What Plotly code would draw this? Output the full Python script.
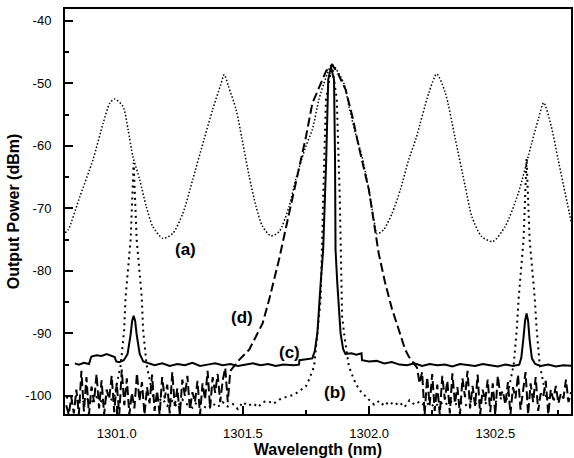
import plotly.graph_objects as go

# ---------------- data ----------------
# curve (a): periodic transmission (dotted)
a_wl = [1300.795, 1300.808, 1300.854, 1300.906, 1300.946, 1300.972, 1300.992, 1301.025, 1301.045,
        1301.064, 1301.091, 1301.117, 1301.143, 1301.183, 1301.222, 1301.262, 1301.301, 1301.347,
        1301.380, 1301.412, 1301.426, 1301.442, 1301.473, 1301.496, 1301.525, 1301.552, 1301.578, 1301.611,
        1301.644, 1301.683, 1301.709, 1301.749, 1301.775, 1301.801, 1301.821, 1301.853, 1301.900,
        1301.920, 1301.946, 1301.972, 1301.999, 1302.019, 1302.032, 1302.058, 1302.091, 1302.124,
        1302.157, 1302.186, 1302.236, 1302.268, 1302.302, 1302.341, 1302.381, 1302.407, 1302.446,
        1302.490, 1302.539, 1302.591, 1302.644, 1302.670, 1302.692, 1302.722, 1302.749, 1302.802]
a_pw = [-73.9, -73.4, -68.1, -62.2, -56.4, -53.2, -52.5, -53.7, -57.4,
        -61.7, -65.4, -69.7, -72.9, -74.8, -74.0, -70.8, -65.4, -58.8,
        -54.2, -50.2, -48.6, -50.4, -54.2, -58.8, -64.9, -69.7, -72.9, -74.4,
        -73.7, -69.7, -65.4, -60.1, -57.4, -52.6, -50.0, -47.0, -50.0,
        -53.7, -58.0, -61.7, -67.0, -71.8, -74.1, -73.4, -70.8, -67.0,
        -62.2, -58.8, -51.6, -48.5, -51.5, -58.8, -66.5, -71.3, -74.5,
        -75.3, -72.9, -67.6, -59.6, -55.8, -53.1, -56.9, -62.2, -72.4]

# curve (b): narrow filtered peaks (dotted)
b_wl = [1300.80, 1300.82, 1300.84, 1300.86, 1300.88, 1300.90, 1300.92, 1300.94, 1300.96, 1300.98,
        1300.988, 1301.016, 1301.0295, 1301.035, 1301.055, 1301.067, 1301.079, 1301.099, 1301.1045,
        1301.118, 1301.146,
        1301.16, 1301.18, 1301.20, 1301.22, 1301.24, 1301.26, 1301.28, 1301.30, 1301.32, 1301.34,
        1301.36, 1301.38, 1301.40, 1301.42, 1301.44, 1301.46, 1301.48, 1301.50, 1301.52, 1301.54,
        1301.56, 1301.58, 1301.60, 1301.62, 1301.644, 1301.67, 1301.703, 1301.749, 1301.762,
        1301.782, 1301.793, 1301.808, 1301.818, 1301.829, 1301.853, 1301.872, 1301.884, 1301.893,
        1301.904, 1301.920, 1301.940, 1301.960, 1301.999,
        1302.02, 1302.04, 1302.06, 1302.08, 1302.10, 1302.12, 1302.14, 1302.16, 1302.18, 1302.20,
        1302.22, 1302.24, 1302.26, 1302.28, 1302.30, 1302.32, 1302.34, 1302.36, 1302.38, 1302.40,
        1302.42, 1302.44, 1302.46, 1302.48, 1302.50, 1302.52,
        1302.545, 1302.573, 1302.585, 1302.593, 1302.612, 1302.624, 1302.636, 1302.656, 1302.664,
        1302.676, 1302.703,
        1302.72, 1302.74, 1302.76, 1302.78, 1302.80]
b_pw = [-100.2, -100.8, -100.0, -101.2, -100.4, -101.0, -100.2, -100.9, -100.3, -100.6,
        -100.5, -95.0, -89.4, -84.2, -75.0, -62.7, -75.0, -84.2, -89.4,
        -95.0, -100.5,
        -101.0, -100.4, -101.6, -100.8, -101.8, -100.6, -101.4, -101.9, -100.9, -101.6,
        -102.0, -101.2, -101.8, -101.0, -101.7, -101.3, -102.1, -101.0, -101.6, -101.2,
        -101.8, -101.0, -100.8, -101.3, -100.6, -100.2, -99.8, -98.5, -97.4,
        -95.3, -91.0, -84.6, -68.6, -52.6, -47.0, -52.6, -68.6, -87.3,
        -91.0, -95.3, -97.4, -99.0, -100.6,
        -101.4, -100.8, -101.6, -100.9, -101.5, -101.0, -101.8, -100.7, -101.4, -100.9,
        -101.6, -101.1, -101.8, -101.0, -101.5, -100.8, -101.4, -101.0, -101.6, -100.9,
        -101.3, -100.7, -101.2, -100.6, -101.0, -100.4,
        -100.5, -95.0, -89.4, -84.2, -75.0, -62.0, -75.0, -84.2, -89.4,
        -95.0, -100.5,
        -100.2, -100.8, -100.0, -100.6, -100.2]

# curve (c): solid
c_wl = [1300.834, 1300.85, 1300.87, 1300.89, 1300.897, 1300.90, 1300.92, 1300.94, 1300.96, 1300.98,
        1300.992, 1300.998, 1301.01, 1301.028, 1301.043, 1301.055, 1301.061, 1301.067, 1301.073,
        1301.079, 1301.091, 1301.105, 1301.13,
        1301.15, 1301.18, 1301.21, 1301.24, 1301.27, 1301.30, 1301.33, 1301.36, 1301.39, 1301.42,
        1301.45, 1301.48, 1301.51, 1301.54, 1301.57, 1301.60, 1301.63, 1301.66, 1301.70, 1301.722,
        1301.724, 1301.75, 1301.775, 1301.785, 1301.795, 1301.808, 1301.818, 1301.830, 1301.838,
        1301.849, 1301.861, 1301.865, 1301.867, 1301.874, 1301.887, 1301.897, 1301.906, 1301.93,
        1301.95, 1301.970, 1301.972, 1302.00, 1302.03, 1302.06, 1302.09, 1302.12,
        1302.15, 1302.18, 1302.21, 1302.24, 1302.27, 1302.30, 1302.33, 1302.36, 1302.39, 1302.42,
        1302.45, 1302.48, 1302.51, 1302.54, 1302.57, 1302.595,
        1302.603, 1302.611, 1302.618, 1302.624, 1302.630, 1302.636, 1302.645, 1302.658,
        1302.68, 1302.71, 1302.74, 1302.77, 1302.80]
c_pw = [-94.8, -95.0, -94.7, -94.9, -94.0, -93.7, -93.5, -93.6, -93.3, -93.6,
        -93.8, -94.5, -94.6, -94.3, -93.3, -90.2, -88.0, -87.2, -88.0,
        -90.2, -93.3, -94.5, -94.9,
        -95.1, -94.8, -95.2, -94.9, -95.1, -94.7, -95.2, -95.0, -94.8, -95.1,
        -94.9, -95.2, -95.0, -94.8, -95.1, -94.9, -95.2, -95.0, -95.1, -95.0,
        -94.3, -94.2, -94.0, -92.8, -90.0, -82.0, -76.6, -62.2, -49.4,
        -47.4, -49.4, -62.2, -76.6, -82.0, -90.0, -92.5, -93.3, -93.2,
        -93.4, -93.2, -94.3, -94.5, -94.4, -94.8, -94.6, -95.0,
        -95.1, -94.8, -95.2, -94.9, -95.1, -95.0, -95.3, -94.9, -95.1, -95.2,
        -94.9, -95.1, -95.3, -95.0, -95.2, -95.0,
        -93.9, -91.0, -88.0, -86.8, -88.0, -91.0, -94.0, -94.9,
        -95.2, -95.0, -95.3, -95.1, -95.2]

# curve (d): broad peak with noisy floor (dashed)
d_wl = [1300.80, 1300.81, 1300.82, 1300.83, 1300.84, 1300.85, 1300.86, 1300.87, 1300.88, 1300.89,
        1300.90, 1300.91, 1300.92, 1300.93, 1300.94, 1300.95, 1300.96, 1300.97, 1300.98, 1300.99,
        1301.00, 1301.01, 1301.02, 1301.03, 1301.04, 1301.05, 1301.06, 1301.07, 1301.08, 1301.09,
        1301.10, 1301.11, 1301.12, 1301.13, 1301.14, 1301.15, 1301.16, 1301.17, 1301.18, 1301.19,
        1301.20, 1301.21, 1301.22, 1301.23, 1301.24, 1301.25, 1301.26, 1301.27, 1301.28, 1301.29,
        1301.30, 1301.31, 1301.32, 1301.33, 1301.34, 1301.35, 1301.36, 1301.37, 1301.38, 1301.39,
        1301.40, 1301.41, 1301.42, 1301.43, 1301.44, 1301.45,
        1301.47, 1301.486, 1301.525, 1301.555, 1301.578, 1301.604, 1301.643, 1301.683, 1301.722,
        1301.75, 1301.775, 1301.808, 1301.83, 1301.853, 1301.875, 1301.907, 1301.935, 1301.959,
        1301.999, 1302.038, 1302.064, 1302.09, 1302.117, 1302.143, 1302.157, 1302.183,
        1302.19, 1302.20, 1302.21, 1302.22, 1302.23, 1302.24, 1302.25, 1302.26, 1302.27, 1302.28,
        1302.29, 1302.30, 1302.31, 1302.32, 1302.33, 1302.34, 1302.35, 1302.36, 1302.37, 1302.38,
        1302.39, 1302.40, 1302.41, 1302.42, 1302.43, 1302.44, 1302.45, 1302.46, 1302.47, 1302.48,
        1302.49, 1302.50, 1302.51, 1302.52, 1302.53, 1302.54, 1302.55, 1302.56, 1302.57, 1302.58,
        1302.59, 1302.60, 1302.61, 1302.62, 1302.63, 1302.64, 1302.65, 1302.66, 1302.67, 1302.68,
        1302.69, 1302.70, 1302.71, 1302.72, 1302.73, 1302.74, 1302.75, 1302.76, 1302.77, 1302.78,
        1302.79, 1302.80]
d_pw = [-101.5, -103.0, -100.2, -102.8, -99.0, -103.0, -96.0, -102.5, -97.0, -103.0,
        -98.5, -101.0, -96.5, -102.0, -97.5, -103.0, -99.0, -100.5, -96.8, -102.6,
        -98.0, -103.0, -95.8, -101.5, -97.2, -103.0, -99.5, -102.0, -96.4, -100.8,
        -97.8, -103.0, -98.6, -101.2, -96.6, -102.4, -99.2, -103.0, -97.0, -100.4,
        -98.2, -102.8, -96.2, -101.6, -98.8, -103.0, -97.4, -100.0, -96.8, -102.2,
        -99.4, -101.0, -97.6, -103.0, -98.0, -100.6, -96.0, -102.0, -97.0, -99.5,
        -96.5, -101.0, -97.5, -95.5, -101.0, -96.0,
        -95.0, -94.2, -92.6, -90.3, -88.4, -84.6, -78.2, -70.8, -63.6,
        -58.5, -53.2, -50.0, -48.0, -47.0, -48.3, -51.0, -55.5, -60.1,
        -67.0, -77.2, -82.0, -86.0, -89.4, -92.6, -93.7, -95.0,
        -95.5, -98.0, -96.2, -103.0, -97.0, -101.5, -96.5, -102.4, -98.2, -103.0,
        -96.8, -100.6, -97.6, -102.8, -96.4, -101.2, -98.6, -103.0, -97.2, -100.2,
        -96.0, -102.0, -98.4, -101.6, -96.6, -103.0, -99.0, -100.8, -97.4, -102.6,
        -98.0, -103.0, -96.8, -100.0, -99.2, -101.4, -97.8, -103.0, -98.6, -100.4,
        -96.6, -102.2, -99.4, -96.2, -103.0, -98.0, -101.0, -97.0, -102.4, -99.6,
        -100.2, -97.6, -103.0, -99.0, -100.6, -98.4, -101.2, -99.6, -100.4, -97.4,
        -101.0, -99.4]

# axis ticks
y_ticks = [-100, -90, -80, -70, -60, -50, -40]
y_tick_text = ["-100", "-90", "-80", "-70", "-60", "-50", "-40"]
x_ticks = [1301.0, 1301.5, 1302.0, 1302.5]
x_tick_text = ["1301.0", "1301.5", "1302.0", "1302.5"]

# curve labels
lab_text = ["(a)", "(b)", "(c)", "(d)"]
lab_wl = [1301.272, 1301.865, 1301.683, 1301.497]
lab_pw = [-76.5, -99.4, -93.0, -87.5]

# ---------------- figure ----------------
FONT = "Liberation Sans, Arial"
fig = go.Figure()
fig.add_trace(go.Scatter(x=d_wl, y=d_pw, mode="lines",
                         line=dict(color="black", width=2, dash="9px,4px")))
fig.add_trace(go.Scatter(x=b_wl, y=b_pw, mode="lines",
                         line=dict(color="black", width=2, dash="2px,4px")))
fig.add_trace(go.Scatter(x=c_wl, y=c_pw, mode="lines",
                         line=dict(color="black", width=2)))
fig.add_trace(go.Scatter(x=a_wl, y=a_pw, mode="lines",
                         line=dict(color="black", width=1.5, dash="1.5px,2px",
                                   shape="spline", smoothing=0.7)))

for t, x, y in zip(lab_text, lab_wl, lab_pw):
    fig.add_annotation(x=x, y=y, text="<b>%s</b>" % t, showarrow=False,
                       font=dict(family=FONT, size=17, color="black"))

axis_common = dict(showgrid=False, zeroline=False, showline=True, linecolor="black",
                   linewidth=2, mirror=True, ticks="inside", tickcolor="black",
                   tickwidth=1.5, ticklen=8,
                   tickfont=dict(family=FONT, size=13, color="black"),
                   minor=dict(ticks="inside", ticklen=4, tickwidth=1.5, tickcolor="black"))

fig.update_xaxes(range=[1300.795, 1302.80], tickvals=x_ticks, ticktext=x_tick_text,
                 minor_tickvals=[1300.75, 1301.25, 1301.75, 1302.25, 1302.75],
                 title=dict(text="<b>Wavelength (nm)</b>", standoff=4,
                            font=dict(family=FONT, size=16, color="black")),
                 ticklabelstandoff=6, **axis_common)
fig.update_yaxes(range=[-102.9, -38.1], tickvals=y_ticks, ticktext=y_tick_text,
                 minor_tickvals=[-95, -85, -75, -65, -55, -45],
                 title=dict(text="<b>Output Power (dBm)</b>", standoff=2,
                            font=dict(family=FONT, size=16, color="black")),
                 ticklabelstandoff=9, **axis_common)

fig.update_layout(width=574, height=458, margin=dict(l=65, r=1, t=9, b=44),
                  plot_bgcolor="white", paper_bgcolor="white", showlegend=False)

fig.write_html("out.html")
